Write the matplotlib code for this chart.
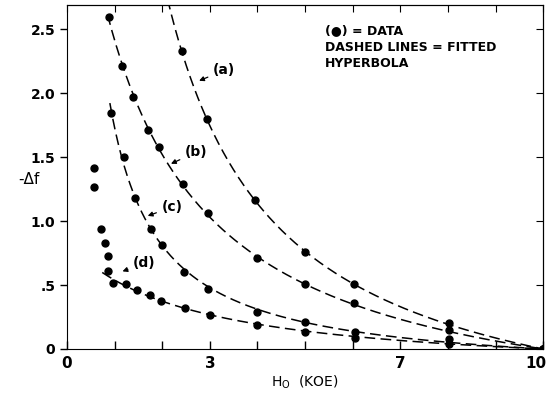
import numpy as np
import matplotlib
matplotlib.use("Agg")
import matplotlib.pyplot as plt
from matplotlib.transforms import ScaledTranslation

# field H0 (kOe) and -delta f, one set per curve
a_x = [2.41, 2.93, 3.95, 5.0, 6.02, 8.03, 10.0]
a_y = [2.33, 1.80, 1.165, 0.756, 0.51, 0.206, 0.0]

b_x = [0.88, 1.16, 1.38, 1.71, 1.93, 2.43, 2.97, 3.98, 5.0, 6.02, 8.03, 10.0]
b_y = [2.60, 2.21, 1.97, 1.71, 1.58, 1.29, 1.06, 0.71, 0.51, 0.36, 0.15, 0.0]

c_x = [0.92, 1.20, 1.43, 1.76, 1.99, 2.46, 2.97, 4.0, 5.0, 6.05, 8.03, 10.0]
c_y = [1.85, 1.50, 1.18, 0.94, 0.81, 0.60, 0.47, 0.29, 0.21, 0.135, 0.076, 0.0]

d_x = [0.97, 1.24, 1.46, 1.75, 1.97, 2.48, 3.0, 4.0, 5.0, 6.05, 8.03, 10.0]
d_y = [0.52, 0.51, 0.46, 0.42, 0.375, 0.32, 0.266, 0.19, 0.13, 0.083, 0.04, 0.0]

# low field points that are not on the fitted curves
low_x = [0.57, 0.57, 0.72, 0.80, 0.855, 0.87]
low_y = [1.415, 1.27, 0.94, 0.83, 0.73, 0.61]

curve_names = ['(a)', '(b)', '(c)', '(d)']
curve_start = [2.0, 0.85, 0.90, 0.74]

x_ticks = list(range(11))
x_tick_labels = ['0', '', '', '3', '', '', '', '7', '', '', '10']
y_ticks = [0, 0.5, 1.0, 1.5, 2.0, 2.5]
y_tick_labels = ['0', '.5', '1.0', '1.5', '2.0', '2.5']

H_END = 10.0


# hyperbola through (10, 0): y = K (10 - x) / (x - x0), least squares over x0
def fit_hyperbola(x, y):
    x = np.array(x)
    y = np.array(y)
    best = None
    for x0 in np.linspace(-4, x.min() - 0.05, 800):
        g = (H_END - x) / (x - x0)
        k = np.dot(g, y) / np.dot(g, g)
        err = np.sum((y - k * g) ** 2)
        if best is None or err < best[0]:
            best = (err, k, x0)
    return best[1], best[2]


fig = plt.figure(figsize=(5.47, 3.95), dpi=100)
ax = fig.add_axes([0.1225, 0.1165, 0.8705, 0.8705])

dash = (0, (7, 3.5))
for name, xs, ys, x_start in zip(curve_names, [a_x, b_x, c_x, d_x],
                                 [a_y, b_y, c_y, d_y], curve_start):
    k, x0 = fit_hyperbola(xs, ys)
    xx = np.linspace(x_start, H_END, 300)
    ax.plot(xx, k * (H_END - xx) / (xx - x0), color='black', lw=1.1, linestyle=dash)
    ax.plot(xs, ys, 'o', color='black', markersize=5)

ax.plot(low_x, low_y, 'o', color='black', markersize=5)

# curve labels with small arrows
arrow = dict(arrowstyle='-|>', color='black', lw=0.9, mutation_scale=7)
ax.annotate('(a)', xy=(2.72, 2.09), xytext=(3.07, 2.18), arrowprops=arrow,
            fontsize=10, fontweight='bold', va='center')
ax.annotate('(b)', xy=(2.13, 1.44), xytext=(2.48, 1.54), arrowprops=arrow,
            fontsize=10, fontweight='bold', va='center')
ax.annotate('(c)', xy=(1.64, 1.034), xytext=(1.99, 1.11), arrowprops=arrow,
            fontsize=10, fontweight='bold', va='center')
ax.annotate('(d)', xy=(1.11, 0.60), xytext=(1.39, 0.67), arrowprops=arrow,
            fontsize=10, fontweight='bold', va='center')

ax.text(5.42, 2.36, '(\u25cf) = DATA\nDASHED LINES = FITTED\nHYPERBOLA',
        fontsize=9, fontweight='bold', va='center', ha='left', linespacing=1.35)

ax.set_xlim(0, 10)
ax.set_ylim(0, 2.69)
ax.set_xticks(x_ticks)
ax.set_xticklabels(x_tick_labels, fontsize=11, fontweight='bold')
ax.set_yticks(y_ticks)
ax.set_yticklabels(y_tick_labels, fontsize=10, fontweight='bold')
ax.tick_params(axis='x', direction='in', length=6, width=1, pad=5)
ax.tick_params(axis='y', direction='out', length=5, width=1)

# keep the "10" label inside the figure
last = ax.get_xticklabels()[-1]
last.set_transform(last.get_transform() + ScaledTranslation(-0.07, 0, fig.dpi_scale_trans))

top = ax.secondary_xaxis('top')
top.set_xticks(x_ticks)
top.tick_params(direction='in', length=5, labeltop=False)
right = ax.secondary_yaxis('right')
right.set_yticks(y_ticks)
right.tick_params(direction='in', length=5, labelright=False)

ax.set_xlabel('H$_\\mathregular{O}$  (KOE)', fontsize=10, labelpad=2)
ax.set_ylabel('-\u0394f', fontsize=11, rotation=0, labelpad=8)
ax.yaxis.set_label_coords(-0.08, 0.47)

fig.savefig('out.png', dpi=100)
